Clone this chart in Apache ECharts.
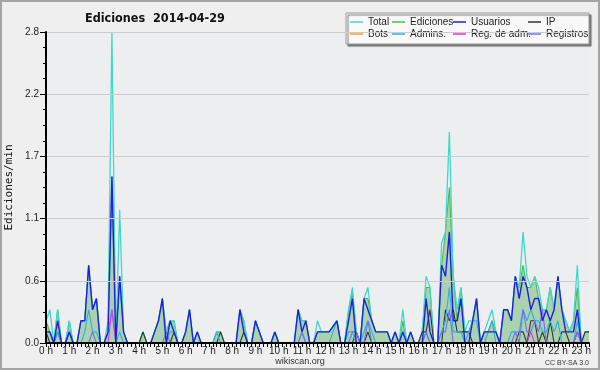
<!DOCTYPE html>
<html>
<head>
<meta charset="utf-8">
<script src="https://cdn.jsdelivr.net/npm/echarts@6/dist/echarts.min.js"></script>
<style>
  html, body { margin: 0; padding: 0; background: #efefef; }
  #chart { width: 600px; height: 370px; }
</style>
</head>
<body>
<div id="chart"></div>
<script>
// ediciones por minuto, tramos de 10 min (00:00 -> 23:20)
var hourLabels = ['0 h', '1 h', '2 h', '3 h', '4 h', '5 h', '6 h', '7 h', '8 h', '9 h', '10 h', '11 h',
  '12 h', '13 h', '14 h', '15 h', '16 h', '17 h', '18 h', '19 h', '20 h', '21 h', '22 h', '23 h'];
var seriesNames = ['Total', 'Ediciones', 'Usuarios', 'IP', 'Bots', 'Admins.', 'Reg. de adm.', 'Registros'];

var total = [
  .2, .3, 0, .3, 0, 0, .2, 0, 0, .2, .2, .7,
  .3, .4, 0, 0, .2, 2.8, 0, 1.2, .1, 0, 0, 0,
  0, .1, 0, 0, .1, .2, .4, .1, .2, .2, 0, 0,
  .1, .3, 0, .1, 0, 0, 0, 0, .1, .1, 0, 0,
  0, 0, .3, .2, 0, 0, .2, .1, 0, 0, 0, .1,
  0, 0, 0, 0, 0, .3, .2, .2, 0, 0, .2, .1,
  .1, .1, .15, .2, 0, 0, .3, .5, .1, 0, .4, .5,
  .2, .1, .1, .1, .1, 0, .1, 0, .3, 0, .1, 0,
  0, .1, .6, .5, 0, 0, .9, 1.0, 1.9, .6, .3, .5,
  .1, .2, .2, .4, 0, .1, .2, .3, .1, 0, .3, .3,
  .2, .6, .5, 1.0, .6, .5, .6, .5, .3, .3, .5, .3,
  .6, .3, .2, .1, .2, .7, 0, .1, .1
];
var ediciones = [
  .2, .1, 0, .3, 0, 0, .2, 0, 0, .2, .2, .7,
  .3, .4, 0, 0, .1, 1.5, 0, .6, .1, 0, 0, 0,
  0, .1, 0, 0, .1, .2, .4, .1, .2, .2, 0, 0,
  .1, .3, 0, .1, 0, 0, 0, 0, .1, .1, 0, 0,
  0, 0, .3, .2, 0, 0, .2, .1, 0, 0, 0, .1,
  0, 0, 0, 0, 0, .3, .2, .2, 0, 0, .1, .1,
  .1, .1, .15, .2, 0, 0, .3, .45, .1, 0, .4, .4,
  .2, .1, .1, .1, .1, 0, .1, 0, .2, 0, .1, 0,
  0, .1, .5, .5, 0, 0, .7, 1.0, 1.4, .6, .2, .5,
  .1, .1, .2, .4, 0, .1, .1, .2, .1, 0, .3, .3,
  .2, .6, .5, .7, .5, .5, .6, .4, .3, .3, .5, .3,
  .6, .3, .2, .1, .2, .5, 0, .1, .1
];
var usuarios = [
  .1, .1, 0, .2, 0, 0, .1, 0, 0, .2, .2, .7,
  .3, .4, 0, 0, .1, 1.5, 0, .6, .1, 0, 0, 0,
  0, 0, 0, 0, .1, .2, .4, 0, .2, .1, 0, 0,
  .1, .3, 0, .1, 0, 0, 0, 0, 0, 0, 0, 0,
  0, 0, .3, .1, 0, 0, .2, .1, 0, 0, 0, .1,
  0, 0, 0, 0, 0, .3, .1, .2, 0, 0, .1, .1,
  .1, .1, .15, .2, 0, 0, .2, .4, 0, 0, .4, .3,
  .2, .1, .1, .1, .1, 0, .1, 0, .1, 0, .1, 0,
  0, 0, .4, .1, 0, 0, .7, .6, 1.0, .2, .2, .4,
  0, 0, .2, .4, 0, .1, .1, .1, .1, 0, .3, .3,
  .2, .6, .4, .6, .5, .3, .4, .4, .2, .3, .2, .3,
  .6, .3, .1, .1, .1, .3, 0, 0, 0
];
var ip = [
  .1, 0, 0, .1, 0, 0, .1, 0, 0, 0, 0, 0,
  0, 0, 0, 0, 0, 0, 0, 0, 0, 0, 0, 0,
  0, .1, 0, 0, 0, 0, 0, 0, 0, .1, 0, 0,
  0, 0, 0, 0, 0, 0, 0, 0, 0, .1, 0, 0,
  0, 0, 0, .1, 0, 0, 0, 0, 0, 0, 0, 0,
  0, 0, 0, 0, 0, 0, 0, 0, 0, 0, 0, 0,
  0, 0, 0, 0, 0, 0, 0, 0, .1, 0, 0, .1,
  0, 0, 0, 0, 0, 0, 0, 0, 0, 0, 0, 0,
  0, .1, .1, .3, 0, 0, 0, .3, .2, .3, .1, .1,
  .1, .1, 0, 0, 0, 0, 0, 0, 0, 0, 0, 0,
  0, 0, .1, .1, 0, .2, .2, 0, .1, 0, .2, 0,
  0, .1, .1, 0, 0, .1, 0, .1, .1
];
var bots = [
  0, 0, 0, 0, 0, 0, 0, 0, 0, 0, 0, 0,
  0, 0, 0, 0, 0, 0, 0, 0, 0, 0, 0, 0,
  0, 0, 0, 0, 0, 0, 0, 0, 0, 0, 0, 0,
  0, 0, 0, 0, 0, 0, 0, 0, 0, 0, 0, 0,
  0, 0, 0, 0, 0, 0, 0, 0, 0, 0, 0, 0,
  0, 0, 0, 0, 0, 0, 0, 0, 0, 0, 0, 0,
  0, 0, 0, 0, 0, 0, 0, 0, 0, 0, 0, 0,
  0, 0, 0, 0, 0, 0, 0, 0, 0, 0, 0, 0,
  0, 0, 0, 0, 0, 0, 0, 0, 0, 0, 0, 0,
  0, 0, 0, 0, 0, 0, 0, 0, 0, 0, 0, 0,
  0, 0, 0, 0, 0, 0, 0, 0, 0, 0, 0, 0,
  0, 0, 0, 0, 0, 0, 0, 0, 0
];
var admins = [
  .1, .1, 0, .1, 0, 0, .1, 0, 0, 0, .1, .3,
  .1, .1, 0, 0, .1, .3, 0, .1, 0, 0, 0, 0,
  0, 0, 0, 0, 0, 0, 0, 0, .1, .1, 0, 0,
  0, 0, 0, 0, 0, 0, 0, 0, .1, 0, 0, 0,
  0, 0, 0, 0, 0, 0, .2, .1, 0, 0, 0, .1,
  0, 0, 0, 0, 0, 0, .1, 0, 0, 0, 0, 0,
  0, 0, .1, .2, 0, 0, .1, .1, 0, 0, .1, .2,
  .1, 0, 0, 0, 0, 0, 0, 0, .1, 0, 0, 0,
  0, 0, .1, 0, 0, 0, .1, .2, .5, .1, .1, .1,
  0, .1, .2, .2, 0, 0, .1, .2, 0, 0, 0, 0,
  .1, .1, .1, .3, .2, .3, .2, .2, .1, .1, .2, .1,
  .2, 0, 0, 0, 0, .2, 0, 0, 0
];
var regAdm = [
  0, 0, 0, 0, 0, 0, 0, 0, 0, 0, 0, 0,
  0, 0, 0, 0, 0, .3, 0, 0, 0, 0, 0, 0,
  0, 0, 0, 0, 0, 0, 0, 0, 0, 0, 0, 0,
  0, 0, 0, 0, 0, 0, 0, 0, 0, 0, 0, 0,
  0, 0, 0, 0, 0, 0, 0, 0, 0, 0, 0, 0,
  0, 0, 0, 0, 0, 0, 0, 0, 0, 0, 0, 0,
  0, 0, 0, 0, 0, 0, 0, 0, 0, 0, 0, 0,
  0, 0, 0, 0, 0, 0, 0, 0, 0, 0, 0, 0,
  0, 0, 0, 0, 0, 0, 0, 0, 0, 0, 0, 0,
  0, 0, 0, 0, 0, 0, 0, 0, 0, 0, 0, 0,
  0, 0, 0, 0, 0, .1, 0, 0, 0, 0, 0, 0,
  0, 0, 0, 0, 0, .1, 0, 0, 0
];
var registros = [
  0, 0, 0, 0, 0, 0, 0, 0, 0, 0, 0, 0,
  .1, 0, 0, 0, 0, 0, 0, 0, 0, 0, 0, 0,
  0, 0, 0, 0, 0, 0, 0, .1, 0, 0, 0, 0,
  0, 0, 0, 0, 0, 0, 0, 0, 0, 0, 0, 0,
  0, 0, 0, 0, 0, 0, 0, 0, 0, 0, 0, 0,
  0, 0, 0, 0, 0, 0, .1, 0, 0, 0, 0, 0,
  0, 0, 0, 0, 0, 0, 0, .1, .1, 0, 0, .2,
  0, 0, 0, 0, 0, 0, 0, 0, 0, 0, 0, 0,
  0, 0, .1, 0, 0, 0, .1, .1, .3, 0, 0, 0,
  0, 0, 0, 0, 0, 0, 0, 0, 0, 0, 0, 0,
  0, .1, 0, .3, .1, .1, .2, .1, .3, 0, 0, 0,
  0, 0, 0, 0, 0, .1, 0, 0, 0
];

var colors = ['#40d8c8', '#4cb84c', '#1f1fe0', '#333333', '#f0a030', '#2cb0de', '#dd33dd', '#7070ee'];
var seriesData = [total, ediciones, usuarios, ip, bots, admins, regAdm, registros];
var seriesZ = [2, 1, 4, 3, 2, 3, 3, 3];

// categorias del eje: una por tramo de 10 minutos
var times = [];
for (var i = 0; i < total.length; i++) {
  times.push(Math.floor(i / 6) + ':' + (i % 6) + '0');
}

var chart = echarts.init(document.getElementById('chart'));
var font = 'Liberation Sans, Arial, sans-serif';

var legendLeft = [350, 392, 453, 528];
var legends = seriesNames.map(function (n, k) {
  return {
    data: [n],
    left: legendLeft[k % 4],
    top: k < 4 ? 17 : 29,
    padding: 0,
    icon: 'rect',
    itemWidth: 13,
    itemHeight: 1.5,
    selectedMode: false,
    textStyle: { fontFamily: font, fontSize: 10, color: '#222' }
  };
});

var series = seriesNames.map(function (n, k) {
  var s = {
    name: n,
    type: 'line',
    data: seriesData[k],
    symbol: 'none',
    z: seriesZ[k],
    color: colors[k],
    lineStyle: { width: k === 2 ? 1.4 : (k === 0 ? 1.3 : 1.1), color: colors[k] }
  };
  if (n === 'Ediciones') {
    s.areaStyle = { color: 'rgba(60,160,60,0.52)', origin: 'start' };
  }
  return s;
});

var option = {
  animation: false,
  backgroundColor: '#efefef',
  title: {
    text: 'Ediciones  2014-04-29',
    left: 85,
    top: 12,
    padding: 0,
    textStyle: { fontFamily: 'DejaVu Sans Condensed, DejaVu Sans, sans-serif', fontSize: 12.5, fontWeight: 'bold', color: '#111' }
  },
  legend: legends,
  grid: {
    left: 46, right: 11, top: 32, bottom: 27,
    outerBoundsMode: 'none',
    show: true, backgroundColor: '#edeef0', borderWidth: 0
  },
  xAxis: {
    type: 'category',
    data: times,
    boundaryGap: false,
    z: 10,
    axisLine: { lineStyle: { color: '#000', width: 2 } },
    axisTick: { show: true, interval: 0, length: 4, lineStyle: { color: '#000' } },
    axisLabel: {
      interval: function (index) { return index % 6 === 0; },
      formatter: function (value, index) { return hourLabels[index / 6]; },
      margin: 3,
      fontFamily: font, fontSize: 10, color: '#222'
    },
    splitLine: { show: false }
  },
  yAxis: {
    type: 'value',
    min: 0,
    max: 2.8,
    interval: 0.56,
    z: 10,
    name: 'Ediciones/min',
    nameLocation: 'middle',
    nameRotate: 90,
    nameGap: 31,
    nameTextStyle: { fontFamily: 'DejaVu Sans Mono, monospace', fontSize: 11, color: '#111' },
    axisLine: { show: true, lineStyle: { color: '#000', width: 2 } },
    axisTick: { show: true, length: 6, lineStyle: { color: '#000' } },
    minorTick: { show: true, splitNumber: 4, length: 3, lineStyle: { color: '#000' } },
    axisLabel: {
      formatter: function (v) { return v.toFixed(1); },
      margin: 7,
      fontFamily: font, fontSize: 10, color: '#222'
    },
    splitLine: { show: true, lineStyle: { color: '#cccccc', width: 1 } }
  },
  graphic: [
    {
      type: 'rect', z: 0, silent: true,
      shape: { x: 1, y: 1, width: 598, height: 368 },
      style: { fill: 'none', stroke: '#a4a4a4', lineWidth: 2 }
    },
    {
      type: 'rect', z: 3, silent: true,
      shape: { x: 346, y: 13, width: 243, height: 31 },
      style: {
        fill: '#f9f9f9', stroke: '#999', lineWidth: 1,
        shadowBlur: 1, shadowOffsetX: 2, shadowOffsetY: 2, shadowColor: '#777'
      }
    },
    {
      type: 'text', z: 5, silent: true,
      x: 300, y: 362,
      style: { text: 'wikiscan.org', fill: '#333', font: '9px ' + font, textAlign: 'center', textVerticalAlign: 'middle' }
    },
    {
      type: 'text', z: 5, silent: true,
      x: 589, y: 363,
      style: { text: 'CC BY-SA 3.0', fill: '#333', font: '7px ' + font, textAlign: 'right', textVerticalAlign: 'middle' }
    }
  ],
  series: series
};

chart.setOption(option);
</script>
</body>
</html>
